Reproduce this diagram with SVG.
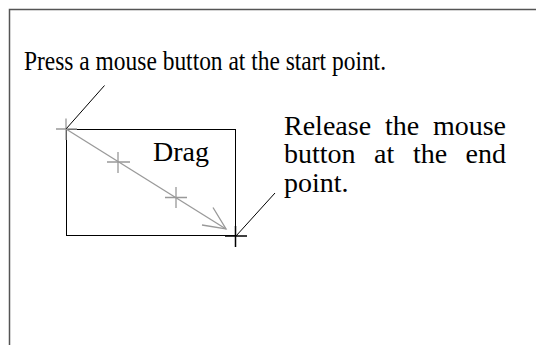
<svg xmlns="http://www.w3.org/2000/svg" width="536" height="345" viewBox="0 0 536 345">
  <style>
    .frame { fill: none; stroke: #555; stroke-width: 1.5; }
    .box { fill: none; stroke: #000; stroke-width: 1; }
    .txt { font-family: "Liberation Serif", "Times New Roman", serif; fill: #000; }
    .big { font-size: 28px; }
    .small { font-size: 27px; }
    .gray { fill: none; stroke: #999; stroke-width: 1.3; }
    .black { fill: none; stroke: #000; stroke-width: 1.5; }
    .leader { fill: none; stroke: #000; stroke-width: 1; }
  </style>
  <rect width="536" height="345" fill="#fff"/>
  <g id="frame">
    <polyline class="frame" points="9.5,345 9.5,9.5 536,9.5"/>
  </g>
  <g id="press-label">
    <text class="txt small" x="24" y="70" textLength="362" lengthAdjust="spacingAndGlyphs">Press a mouse button at the start point.</text>
  </g>
  <g id="release-label" class="txt big">
    <text y="134.5"><tspan x="284">Release</tspan><tspan x="385">the</tspan><tspan x="506" text-anchor="end">mouse</tspan></text>
    <text y="163"><tspan x="284">button</tspan><tspan x="374">at</tspan><tspan x="413">the</tspan><tspan x="506" text-anchor="end">end</tspan></text>
    <text y="191.5" x="284">point.</text>
  </g>
  <g id="drag-area">
    <rect class="box" x="66.5" y="129.5" width="169" height="106"/>
    <text class="txt big" x="153" y="161">Drag</text>
  </g>
  <g id="start-point">
    <path class="gray" d="M56,129 H77 M66,118.5 V140"/>
  </g>
  <g id="mid-point-1">
    <path class="gray" d="M107,162 H130 M118,152 V173"/>
  </g>
  <g id="mid-point-2">
    <path class="gray" d="M165,197.5 H187 M176,187 V208"/>
  </g>
  <g id="end-point">
    <path class="black" d="M225,236 H247 M235.5,226 V247"/>
  </g>
  <g id="connectors">
    <line class="leader" x1="66" y1="129" x2="104.5" y2="85.5"/>
    <line class="leader" x1="236" y1="236" x2="275" y2="193"/>
    <line class="gray" x1="66" y1="129" x2="226" y2="229"/>
    <polyline class="gray" points="213,207.5 226,229 202,225"/>
  </g>
</svg>
